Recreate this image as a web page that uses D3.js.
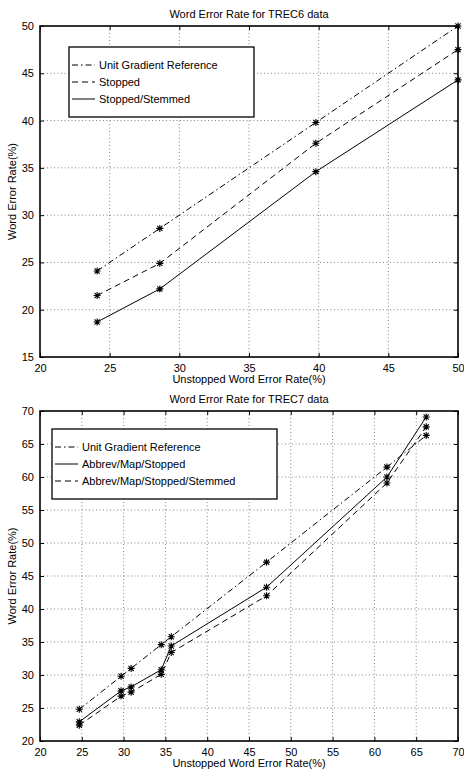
<!DOCTYPE html>
<html>
<head>
<meta charset="utf-8">
<script src="https://cdn.jsdelivr.net/npm/d3@7"></script>
<style>
  body { margin: 0; background: #fff; }
  svg text { font-family: "Liberation Sans", Arial, sans-serif; font-size: 11px; fill: #000; }
</style>
</head>
<body>
<div id="chart"></div>
<script>
// data
const trec6X = [24.1, 28.6, 39.8, 50.0];
const trec6Unit = [24.1, 28.6, 39.8, 50.0];
const trec6Stopped = [21.5, 24.9, 37.6, 47.5];
const trec6Stemmed = [18.7, 22.2, 34.6, 44.3];

const trec7X = [24.7, 29.7, 30.9, 34.5, 35.7, 47.1, 61.5, 66.2];
const trec7Unit = [24.8, 29.8, 31.0, 34.6, 35.8, 47.1, 61.5, 66.3];
const trec7Stopped = [22.9, 27.6, 28.2, 30.8, 34.4, 43.3, 60.0, 69.1];
const trec7Stemmed = [22.4, 26.8, 27.4, 30.1, 33.4, 42.0, 59.1, 67.6];

const trec6Ticks = [20, 25, 30, 35, 40, 45, 50];
const trec6YTicks = [15, 20, 25, 30, 35, 40, 45, 50];
const trec7Ticks = [20, 25, 30, 35, 40, 45, 50, 55, 60, 65, 70];
const trec7YTicks = [20, 25, 30, 35, 40, 45, 50, 55, 60, 65, 70];

const DASHDOT = "6,3,1.5,3";
const DASHED = "6,4";

const SVG = d3.select("#chart").append("svg")
    .attr("width", 464)
    .attr("height", 769);

// draws one MATLAB-style panel
function drawPanel(p) {
  const x = d3.scaleLinear().domain(p.xDomain).range([p.left, p.right]);
  const y = d3.scaleLinear().domain(p.yDomain).range([p.bottom, p.top]);
  const g = SVG.append("g");

  // dotted grid
  g.selectAll(".vgrid").data(p.xTicks.slice(1, -1)).enter().append("line")
    .attr("x1", d => x(d)).attr("x2", d => x(d))
    .attr("y1", p.top).attr("y2", p.bottom)
    .attr("stroke", "#666").attr("stroke-width", 0.8).attr("stroke-dasharray", "1,2.5");
  g.selectAll(".hgrid").data(p.yTicks.slice(1, -1)).enter().append("line")
    .attr("x1", p.left).attr("x2", p.right)
    .attr("y1", d => y(d)).attr("y2", d => y(d))
    .attr("stroke", "#666").attr("stroke-width", 0.8).attr("stroke-dasharray", "1,2.5");

  // axes with inward ticks on all sides
  g.append("g").attr("transform", "translate(0," + p.bottom + ")")
    .call(d3.axisBottom(x).tickValues(p.xTicks).tickSize(-4).tickPadding(7).tickSizeOuter(0))
    .call(a => a.select(".domain").remove());
  g.append("g").attr("transform", "translate(0," + p.top + ")")
    .call(d3.axisTop(x).tickValues(p.xTicks).tickSize(-4).tickFormat("").tickSizeOuter(0))
    .call(a => a.select(".domain").remove());
  g.append("g").attr("transform", "translate(" + p.left + ",0)")
    .call(d3.axisLeft(y).tickValues(p.yTicks).tickSize(-4).tickPadding(6).tickSizeOuter(0))
    .call(a => a.select(".domain").remove());
  g.append("g").attr("transform", "translate(" + p.right + ",0)")
    .call(d3.axisRight(y).tickValues(p.yTicks).tickSize(-4).tickFormat("").tickSizeOuter(0))
    .call(a => a.select(".domain").remove());
  g.selectAll(".tick line").attr("stroke", "#000");
  g.selectAll(".tick text").attr("font-size", "11px").attr("fill", "#000")
    .attr("font-family", "Liberation Sans, Arial, sans-serif");

  g.append("rect")
    .attr("x", p.left).attr("y", p.top)
    .attr("width", p.right - p.left).attr("height", p.bottom - p.top)
    .attr("fill", "none").attr("stroke", "#000").attr("stroke-width", 1.6);

  // series lines
  const line = d3.line().x(d => x(d[0])).y(d => y(d[1]));
  p.series.forEach(s => {
    const pts = p.xs.map((v, i) => [v, s.values[i]]);
    g.append("path").datum(pts)
      .attr("d", line)
      .attr("fill", "none").attr("stroke", "#000").attr("stroke-width", 1)
      .attr("stroke-dasharray", s.dash);
    // asterisk markers
    g.selectAll(null).data(pts).enter().append("path")
      .attr("transform", d => "translate(" + x(d[0]) + "," + y(d[1]) + ")")
      .attr("d", "M-3.5,0H3.5M0,-3.5V3.5M-2.6,-2.6L2.6,2.6M-2.6,2.6L2.6,-2.6")
      .attr("stroke", "#000").attr("stroke-width", 1.1).attr("fill", "none");
  });

  // legend
  const lg = g.append("g");
  lg.append("rect")
    .attr("x", p.legend.x).attr("y", p.legend.y)
    .attr("width", p.legend.w).attr("height", p.legend.h)
    .attr("fill", "#fff").attr("stroke", "#000").attr("stroke-width", 1.3);
  p.series.forEach((s, i) => {
    const ly = p.legend.y + 18 + i * 17;
    lg.append("line")
      .attr("x1", p.legend.x + 3).attr("x2", p.legend.x + 26)
      .attr("y1", ly).attr("y2", ly)
      .attr("stroke", "#000").attr("stroke-width", 1).attr("stroke-dasharray", s.dash);
    lg.append("text")
      .attr("x", p.legend.x + 30).attr("y", ly + 4)
      .text(s.name);
  });

  // titles
  g.append("text")
    .attr("x", (p.left + p.right) / 2).attr("y", p.top - 8)
    .attr("text-anchor", "middle").text(p.title);
  g.append("text")
    .attr("x", (p.left + p.right) / 2).attr("y", p.bottom + 26)
    .attr("text-anchor", "middle").text(p.xLabel);
  g.append("text")
    .attr("transform", "translate(16," + (p.top + p.bottom) / 2 + ") rotate(-90)")
    .attr("text-anchor", "middle").text(p.yLabel);
}

drawPanel({
  left: 40, right: 458, top: 26, bottom: 357,
  xDomain: [20, 50], yDomain: [15, 50],
  xTicks: trec6Ticks, yTicks: trec6YTicks,
  xs: trec6X,
  series: [
    {name: "Unit Gradient Reference", values: trec6Unit, dash: DASHDOT},
    {name: "Stopped", values: trec6Stopped, dash: DASHED},
    {name: "Stopped/Stemmed", values: trec6Stemmed, dash: null}
  ],
  legend: {x: 69, y: 47, w: 185, h: 70},
  title: "Word Error Rate for TREC6 data",
  xLabel: "Unstopped Word Error Rate(%)",
  yLabel: "Word Error Rate(%)"
});

drawPanel({
  left: 40, right: 458, top: 411, bottom: 741,
  xDomain: [20, 70], yDomain: [20, 70],
  xTicks: trec7Ticks, yTicks: trec7YTicks,
  xs: trec7X,
  series: [
    {name: "Unit Gradient Reference", values: trec7Unit, dash: DASHDOT},
    {name: "Abbrev/Map/Stopped", values: trec7Stopped, dash: null},
    {name: "Abbrev/Map/Stopped/Stemmed", values: trec7Stemmed, dash: DASHED}
  ],
  legend: {x: 52, y: 429, w: 225, h: 70},
  title: "Word Error Rate for TREC7 data",
  xLabel: "Unstopped Word Error Rate(%)",
  yLabel: "Word Error Rate(%)"
});
</script>
</body>
</html>
